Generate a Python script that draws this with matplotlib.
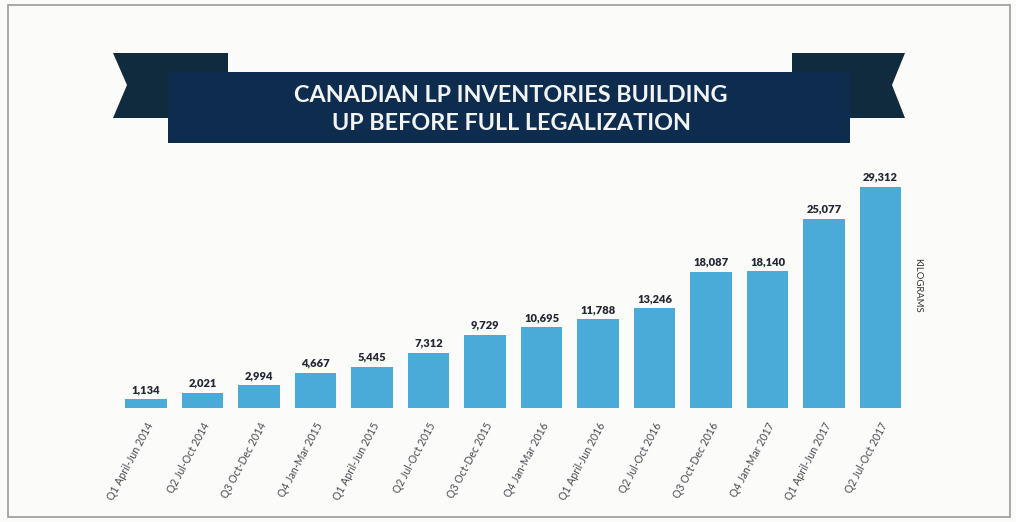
import matplotlib
matplotlib.use("Agg")
import matplotlib.pyplot as plt
from matplotlib.patches import Polygon, Rectangle

categories = ["Q1 April-Jun 2014", "Q2 Jul-Oct 2014", "Q3 Oct-Dec 2014", "Q4 Jan-Mar 2015",
              "Q1 April-Jun 2015", "Q2 Jul-Oct 2015", "Q3 Oct-Dec 2015", "Q4 Jan-Mar 2016",
              "Q1 April-Jun 2016", "Q2 Jul-Oct 2016", "Q3 Oct-Dec 2016", "Q4 Jan-Mar 2017",
              "Q1 April-Jun 2017", "Q2 Jul-Oct 2017"]
values = [1134, 2021, 2994, 4667, 5445, 7312, 9729, 10695, 11788, 13246, 18087, 18140, 25077, 29312]
title_lines = ["CANADIAN LP INVENTORIES BUILDING", "UP BEFORE FULL LEGALIZATION"]
unit_label = "KILOGRAMS"

W, H = 1016, 522
fig = plt.figure(figsize=(W / 100, H / 100), dpi=100)
fig.patch.set_facecolor("#fbfbfa")

# Background / decoration layer in pixel coordinates
bg = fig.add_axes([0, 0, 1, 1])
bg.set_xlim(0, W)
bg.set_ylim(H, 0)
bg.axis("off")
bg.add_patch(Rectangle((8, 5), 1002, 512, fill=False, edgecolor="#9a9a9a", linewidth=1.2))

tail_col = "#102b3d"
main_col = "#0e2d4e"
bg.add_patch(Polygon([(113, 53), (228, 53), (228, 118), (113, 118), (127, 85)],
                     closed=True, facecolor=tail_col, edgecolor="none"))
bg.add_patch(Polygon([(792, 53), (905, 53), (892, 85), (905, 118), (792, 118)],
                     closed=True, facecolor=tail_col, edgecolor="none"))
bg.add_patch(Rectangle((168, 72), 682, 71, facecolor=main_col, edgecolor="none"))
bg.text(511, 96, title_lines[0], color="#f2f4f6", fontsize=16.8, fontweight="bold",
        family="Lato", ha="center", va="center")
bg.text(511, 123, title_lines[1], color="#f2f4f6", fontsize=16.8, fontweight="bold",
        family="Lato", ha="center", va="center")

# Bar chart axes
left_px, right_px = 100, 930
base_px, top_px = 408, 170
spacing = 56.5
first_center = 146
scale = 221 / 29312  # px per unit
ax = fig.add_axes([left_px / W, (H - base_px) / H, (right_px - left_px) / W, (base_px - top_px) / H])
ax.set_facecolor("none")
ax.set_xlim(-(first_center - left_px) / spacing, (right_px - first_center) / spacing)
ax.set_ylim(0, (base_px - top_px) / scale)
x = list(range(len(values)))
ax.bar(x, values, width=0.73, color="#4aaad8", edgecolor="none")
for xi, v in zip(x, values):
    ax.annotate(f"{v:,}", (xi, v), xytext=(0, 3), textcoords="offset points",
                ha="center", va="bottom", fontsize=8, fontweight="heavy",
                color="#232733", family="Lato")
ax.set_xticks(x)
ax.set_xticklabels(categories, rotation=62, ha="right", rotation_mode="anchor",
                   fontsize=7.6, color="#4a4a50", family="Lato")
ax.tick_params(axis="x", length=0, pad=9)
ax.set_yticks([])
for s in ax.spines.values():
    s.set_visible(False)

bg.text(918, 285, unit_label, rotation=-90, fontsize=6.8, color="#333333",
        family="Lato", ha="center", va="center")

fig.savefig("out.png", dpi=100, facecolor=fig.get_facecolor())
